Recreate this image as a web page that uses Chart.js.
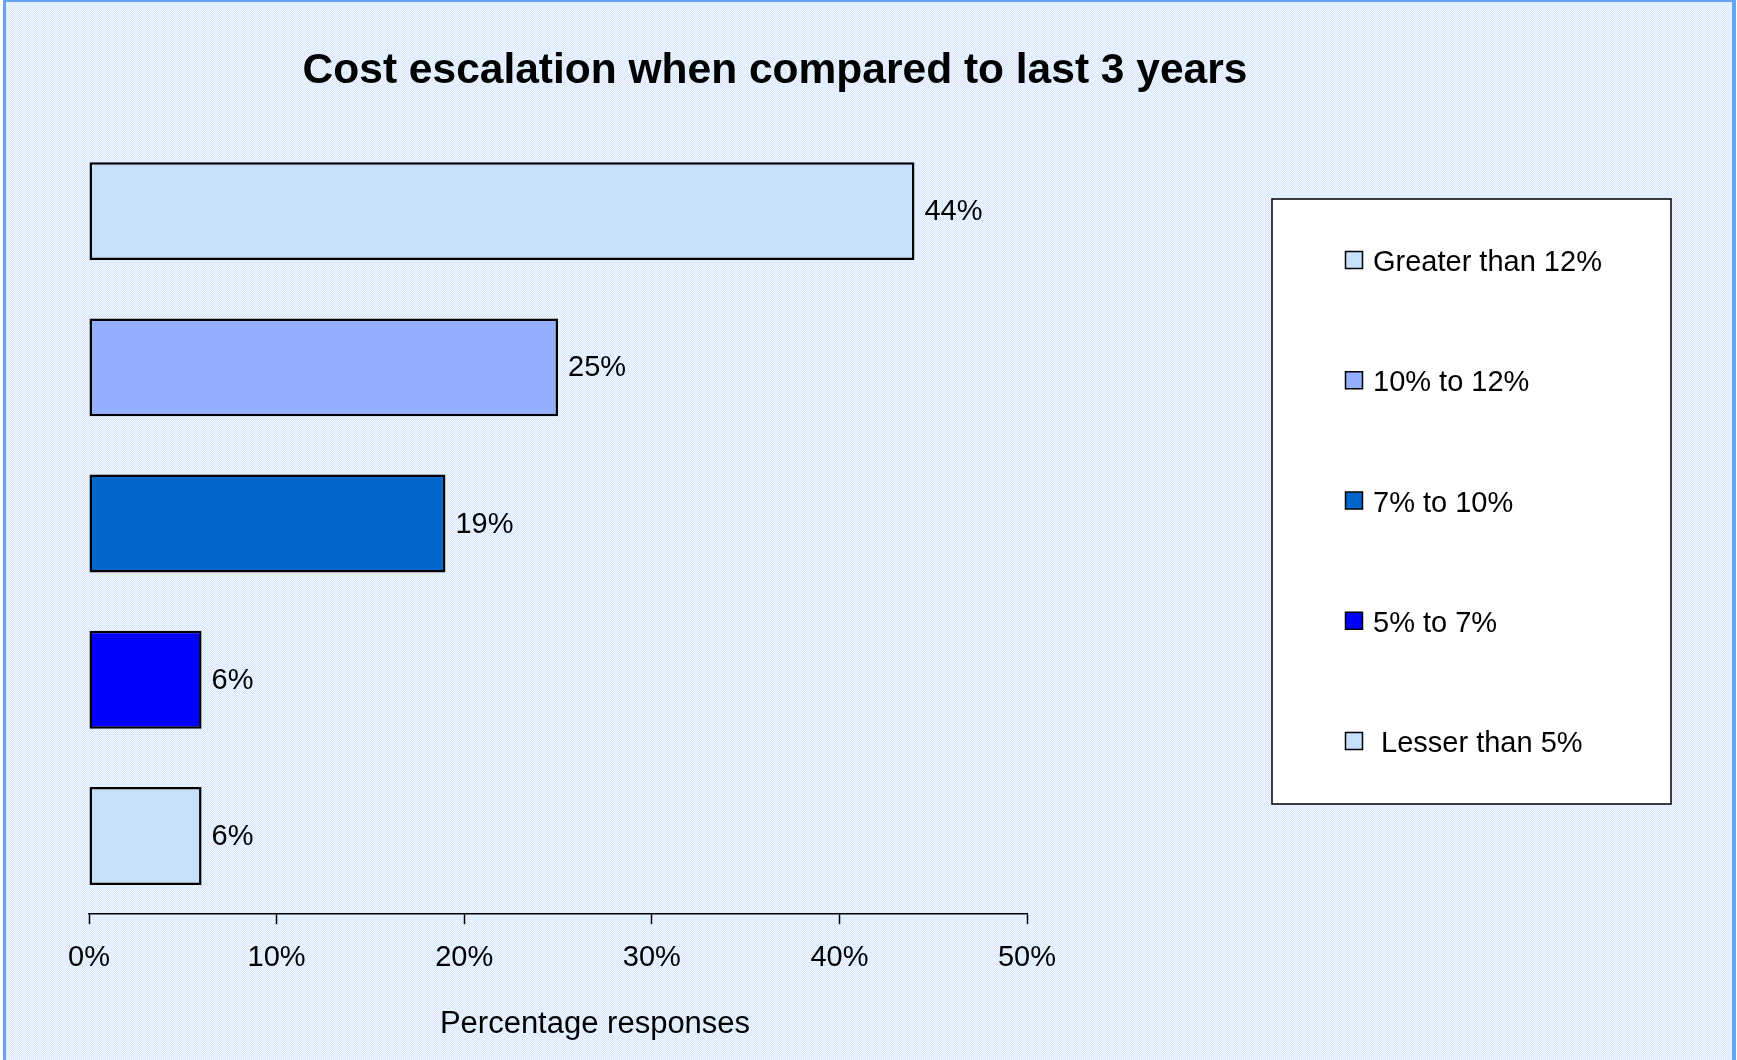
<!DOCTYPE html>
<html>
<head>
<meta charset="utf-8">
<title>Cost escalation when compared to last 3 years</title>
<script src="https://cdn.jsdelivr.net/npm/chart.js@4.4.1/dist/chart.umd.min.js"></script>
<style>
  html, body { margin: 0; padding: 0; background: #ffffff; }
  canvas { display: block; }
</style>
</head>
<body>
<canvas id="chart" width="1737" height="1060"></canvas>
<script>
// Survey answers: share of respondents per cost-escalation band
const categories = ['Greater than 12%', '10% to 12%', '7% to 10%', '5% to 7%', ' Lesser than 5%'];
const responses = [44, 25, 19, 6, 6];
const tickValues = [0, 10, 20, 30, 40, 50];
const chartTitle = 'Cost escalation when compared to last 3 years';
const axisTitle = 'Percentage responses';

const palette = ['#C6E0FA', '#93AFFE', '#0066CC', '#0000FF', '#C6E0FA'];
const FONT = "'Liberation Sans', Arial, sans-serif";

// Dotted light-blue backdrop with a thin blue frame
const backdrop = {
  id: 'backdrop',
  beforeDraw(chart) {
    const ctx = chart.ctx;
    const w = chart.width, h = chart.height;
    const tile = document.createElement('canvas');
    tile.width = 2; tile.height = 2;
    const t = tile.getContext('2d');
    t.fillStyle = '#D7E7FD'; t.fillRect(0, 0, 2, 2);
    t.fillStyle = '#EFF6FF'; t.fillRect(0, 0, 1, 1); t.fillRect(1, 1, 1, 1);
    ctx.save();
    ctx.fillStyle = '#ffffff';
    ctx.fillRect(0, 0, w, h);
    ctx.fillStyle = ctx.createPattern(tile, 'repeat');
    ctx.fillRect(3, 1, w - 5, h - 1);
    ctx.fillStyle = '#66A3F2';
    ctx.fillRect(3, 0, 3, h);        // left edge
    ctx.fillRect(3, 0, w - 5, 2);    // top edge
    ctx.fillRect(w - 5, 0, 4, h);    // right edge
    ctx.restore();
  }
};

// Chart heading, axis caption, value labels and boxed legend
const annotations = {
  id: 'annotations',
  afterDraw(chart) {
    const ctx = chart.ctx;
    ctx.save();
    ctx.fillStyle = '#000000';

    // heading
    ctx.font = 'bold 42.5px ' + FONT;
    ctx.textAlign = 'center';
    ctx.textBaseline = 'alphabetic';
    ctx.fillText(chartTitle, 775, 83);

    // x axis caption
    ctx.font = '31px ' + FONT;
    ctx.fillText(axisTitle, 595, 1033);

    // value labels at the end of each bar
    ctx.font = '29px ' + FONT;
    ctx.textAlign = 'left';
    ctx.textBaseline = 'middle';
    const meta = chart.getDatasetMeta(0);
    meta.data.forEach((bar, i) => {
      const v = chart.data.datasets[0].data[i];
      ctx.fillText(v + '%', bar.x + 10, bar.y + 1);
    });

    // legend box
    const bx = 1272, by = 199, bw = 399, bh = 605;
    ctx.fillStyle = '#ffffff';
    ctx.fillRect(bx, by, bw, bh);
    ctx.strokeStyle = '#000000';
    ctx.lineWidth = 1.5;
    ctx.strokeRect(bx, by, bw, bh);

    const colors = chart.data.datasets[0].backgroundColor;
    ctx.textBaseline = 'alphabetic';
    chart.data.labels.forEach((label, i) => {
      const cy = 260 + i * 120.25;
      ctx.fillStyle = colors[i];
      ctx.fillRect(1345.5, cy - 8.5, 17, 17);
      ctx.strokeStyle = '#000000';
      ctx.lineWidth = 1.5;
      ctx.strokeRect(1345.5, cy - 8.5, 17, 17);
      ctx.fillStyle = '#000000';
      ctx.fillText(label, 1373, cy + 11);
    });
    ctx.restore();
  }
};

new Chart(document.getElementById('chart'), {
  type: 'bar',
  data: {
    labels: categories,
    datasets: [{
      data: responses,
      backgroundColor: palette,
      borderColor: '#000000',
      borderWidth: 2.5,
      borderSkipped: false,
      categoryPercentage: 1,
      barPercentage: 0.627
    }]
  },
  options: {
    indexAxis: 'y',
    responsive: false,
    animation: false,
    devicePixelRatio: 1,
    layout: { padding: { top: 133, left: 89, right: 710, bottom: 69 } },
    plugins: {
      legend: { display: false },
      title: { display: false },
      tooltip: { enabled: false }
    },
    scales: {
      y: { display: false },
      x: {
        min: 0,
        max: 50,
        afterBuildTicks(scale) {
          scale.ticks = tickValues.map(v => ({ value: v }));
        },
        grid: {
          drawOnChartArea: false,
          drawTicks: true,
          tickLength: 10,
          tickWidth: 1.5,
          tickColor: '#000000'
        },
        border: { display: true, color: '#000000', width: 1.5 },
        ticks: {
          color: '#000000',
          padding: 16,
          maxRotation: 0,
          autoSkip: false,
          font: { family: FONT, size: 29 },
          callback: v => v + '%'
        }
      }
    }
  },
  plugins: [backdrop, annotations]
});
</script>
</body>
</html>
